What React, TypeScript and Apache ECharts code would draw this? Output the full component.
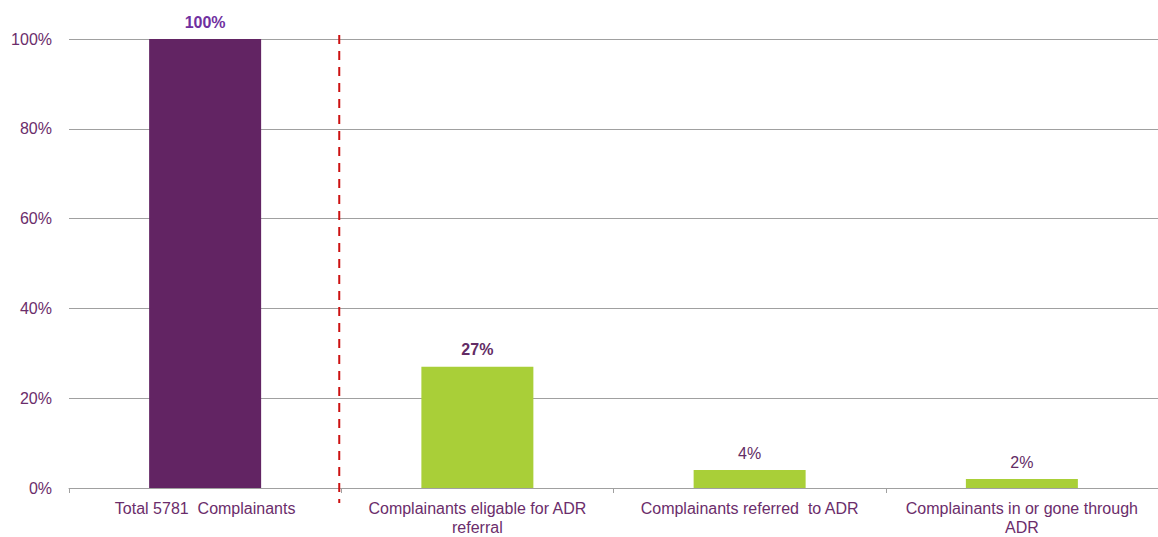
import React, { useEffect, useRef } from "react";
import * as echarts from "echarts";

const categories = [
  "Total 5781  Complainants",
  "Complainants eligable for ADR\nreferral",
  "Complainants referred  to ADR",
  "Complainants in or gone through\nADR",
];
const values = [100, 27, 4, 2];
const barColors = ["#622463", "#A9CF38", "#A9CF38", "#A9CF38"];
const labelColors = ["#7030A0", "#632C65", "#632C65", "#632C65"];
const labelBold = [true, true, false, false];
const yTicks = [0, 20, 40, 60, 80, 100];

export default function App() {
  const ref = useRef<HTMLDivElement>(null);
  useEffect(() => {
    const chart = echarts.init(ref.current!, null, { renderer: "svg" });
    const textColor = "#6B2D6B";
    const font = "Liberation Sans, Arial, sans-serif";
    chart.setOption({
      animation: false,
      grid: { left: 69, right: 0, top: 39, bottom: 47, containLabel: false },
      xAxis: {
        type: "category",
        data: categories,
        axisLine: { lineStyle: { color: "#A0A0A0", width: 1 } },
        axisTick: { show: true, length: 5, lineStyle: { color: "#A0A0A0" } },
        axisLabel: {
          color: textColor,
          fontSize: 16,
          fontFamily: font,
          margin: 11,
          lineHeight: 19,
          interval: 0,
        },
      },
      yAxis: {
        type: "value",
        min: yTicks[0],
        max: yTicks[yTicks.length - 1],
        interval: 20,
        axisLine: { show: false },
        axisTick: { show: false },
        splitLine: { lineStyle: { color: "#A0A0A0", width: 1 } },
        axisLabel: {
          color: textColor,
          fontSize: 16,
          fontFamily: font,
          margin: 17,
          formatter: (v: number) => v + "%",
        },
      },
      series: [
        {
          type: "bar",
          barWidth: 112,
          data: values.map((v, i) => ({
            value: v,
            itemStyle: { color: barColors[i] },
            label: {
              show: true,
              position: "top",
              distance: 9,
              formatter: v + "%",
              color: labelColors[i],
              fontWeight: labelBold[i] ? "bold" : "normal",
              fontSize: 16,
              fontFamily: font,
            },
          })),
        },
      ],
    });
    const x0 = chart.convertToPixel({ xAxisIndex: 0 }, 0) as number;
    const x1 = chart.convertToPixel({ xAxisIndex: 0 }, 1) as number;
    const xm = (x0 + x1) / 2 - 2;
    const yTop = chart.convertToPixel({ yAxisIndex: 0 }, 100) as number;
    const yBot = chart.convertToPixel({ yAxisIndex: 0 }, 0) as number;
    chart.setOption({
      graphic: [
        {
          type: "line",
          shape: { x1: xm, y1: yTop - 4, x2: xm, y2: yBot + 15 },
          style: { stroke: "#CC1111", lineWidth: 2, lineDash: [9, 7] },
          z: 10,
        },
      ],
    });
    return () => chart.dispose();
  }, []);
  return (
    <div
      ref={ref}
      style={{ position: "fixed", left: 0, top: 0, width: 1158, height: 537, background: "#fff" }}
    />
  );
}
